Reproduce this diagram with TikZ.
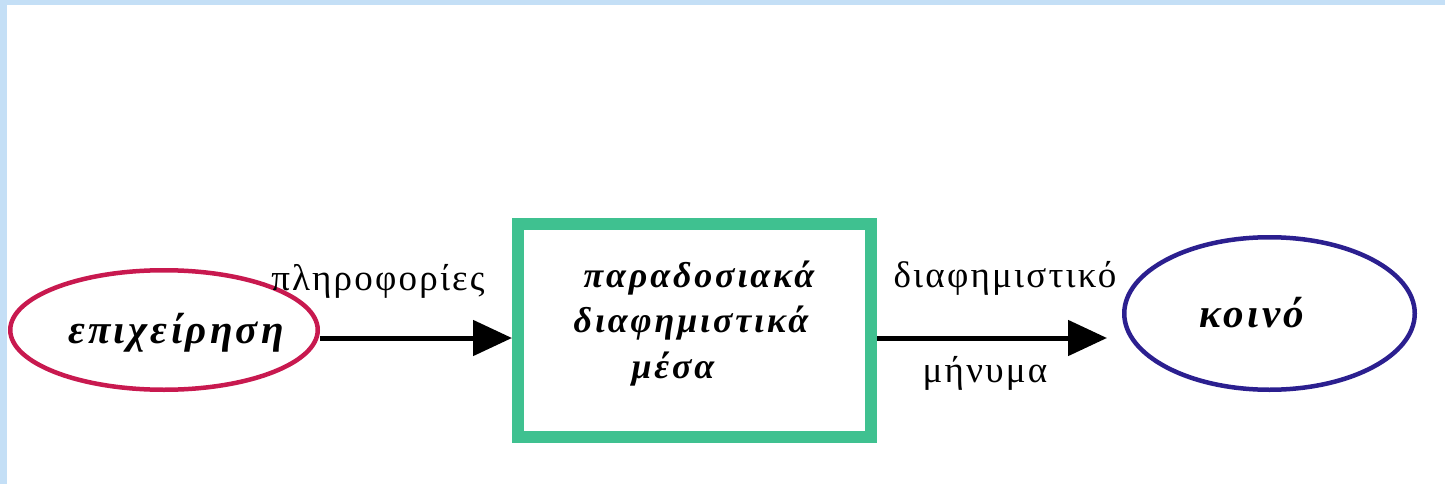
\documentclass[tikz,border=0pt]{standalone}
\usepackage{fontspec}
\setmainfont{Liberation Serif}
\newfontfamily\lblfont[LetterSpace=6]{Liberation Serif}
\newfontfamily\nodefont[LetterSpace=8]{Liberation Serif}
\usetikzlibrary{arrows.meta,shapes.geometric}
\definecolor{stripblue}{HTML}{C4DFF6}
\definecolor{redline}{HTML}{C8194F}
\definecolor{greenline}{HTML}{3FC190}
\definecolor{blueline}{HTML}{2B1F8F}
\tikzset{
  oval/.style={ellipse, draw, line width=4.5pt, inner sep=0pt},
  boxnode/.style={rectangle, draw=greenline, line width=12pt, inner sep=0pt},
  bigtext/.style={font=\nodefont\bfseries\itshape\fontsize{41}{46}\selectfont, anchor=base, inner sep=0pt},
  boxtext/.style={font=\nodefont\bfseries\itshape\fontsize{36}{40}\selectfont, anchor=base, inner sep=0pt},
  lbl/.style={font=\lblfont\fontsize{37}{40}\selectfont, anchor=base, inner sep=0pt},
  arr/.style={line width=5pt, -{Triangle[length=39pt,width=35pt]}}
}
\begin{document}
\begin{tikzpicture}[x=1pt,y=-1pt]
\useasboundingbox (0,0) rectangle (1445,484);
\fill[white] (0,0) rectangle (1445,484);
\fill[stripblue] (0,0) rectangle (1445,5);
\fill[stripblue] (0,0) rectangle (7,484);

\node[oval, draw=redline, minimum width=307.5pt, minimum height=119.5pt] (e1) at (164,330) {};
\node[bigtext] (t1) at (176,343) {επιχείρηση};

\node[boxnode, minimum width=353pt, minimum height=213pt] (box) at (694.5,330.5) {};
\node[boxtext] (t2a) at (699,287) {παραδοσιακά};
\node[boxtext] (t2b) at (691,332) {διαφημιστικά};
\node[boxtext] (t2c) at (673,378) {μέσα};

\node[oval, draw=blueline, minimum width=290.5pt, minimum height=152.5pt] (e2) at (1269.5,313.5) {};
\node[bigtext] (t3) at (1252,327) {κοινό};

\path ([yshift=-8pt]e1.east) coordinate (s1);
\draw[arr] (s1) -- (s1 -| box.west);
\path ([yshift=-7.5pt]box.east) coordinate (s2);
\draw[arr, shorten >=15pt] (s2) -- (s2 -| e2.west);

\node[lbl] (l1) at (378,290) {πληροφορίες};
\node[lbl] (l2) at (1005,287) {διαφημιστικό};
\node[lbl] (l3) at (985,382) {μήνυμα};
\end{tikzpicture}
\end{document}
